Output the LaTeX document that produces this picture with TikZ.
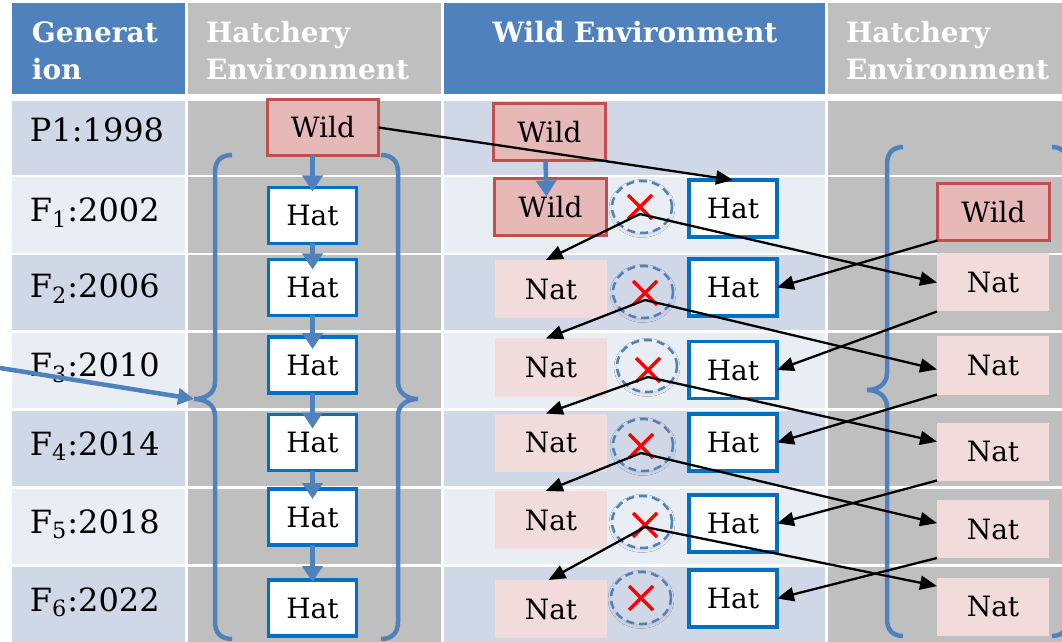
\documentclass[tikz,border=0pt]{standalone}
\usepackage{fontspec}
\setmainfont{DejaVu Serif}
\usetikzlibrary{arrows.meta, shapes.geometric, shapes.misc, shadows.blur}

\definecolor{headblue}{HTML}{4F81BD}
\definecolor{cellgray}{HTML}{BFBFBF}
\definecolor{rowdark}{HTML}{D0D8E8}
\definecolor{rowlight}{HTML}{E9EDF4}
\definecolor{wildfill}{HTML}{E6B9B8}
\definecolor{wildline}{HTML}{C0504D}
\definecolor{natfill}{HTML}{F2DCDB}
\definecolor{hatline}{HTML}{0070C0}

\newcommand{\boxfont}{\fontsize{14}{16}\selectfont}

\begin{document}
\begin{tikzpicture}[x=0.5pt, y=-0.5pt,
    every node/.style={inner sep=0pt, outer sep=0pt},
    headtext/.style={font=\fontsize{14}{18.5}\selectfont\bfseries, text=white, align=left, anchor=north west},
    genlabel/.style={font=\fontsize{16}{19}\selectfont, anchor=base west},
    hatbox/.style={draw=hatline, line width=1.75pt, fill=white, minimum width=44pt, minimum height=28pt, font=\boxfont},
    wildbox/.style={draw=wildline, line width=1.5pt, fill=wildfill, minimum width=56pt, minimum height=28.5pt, font=\boxfont},
    natbox/.style={fill=natfill, minimum width=56pt, minimum height=29pt, font=\boxfont},
    ringmark/.style={ellipse, draw=headblue, line width=1.25pt, dash pattern=on 4pt off 2.5pt, minimum width=30pt, minimum height=26pt,
        blur shadow={shadow xshift=0pt, shadow yshift=-0.75pt, shadow blur radius=1.5pt, shadow opacity=15}},
    nogo/.style={cross out, draw=red, line width=1.75pt, minimum size=12pt},
    flow/.style={draw=headblue, line width=2.25pt, -{Triangle[length=8pt, width=10pt]}},
    link/.style={draw=black, line width=1.15pt, -{Triangle[length=8.5pt, width=7pt]}},
    bracestroke/.style={draw=headblue, line width=2.25pt}]

    \clip (0,0) rectangle (1062,642);
    \fill[white] (0,0) rectangle (1062,642);

    % header cells
    \fill[headblue] (12,3) rectangle (185,94);
    \fill[cellgray] (188,3) rectangle (441,94);
    \fill[headblue] (444,3) rectangle (825,94);
    \fill[cellgray] (828,3) rectangle (1062,94);

    % body rows, hatchery columns on top
    \fill[rowdark]  (12,101)   rectangle (1062,176);
    \fill[rowlight] (12,176)   rectangle (1062,254);
    \fill[rowdark]  (12,254)   rectangle (1062,331.5);
    \fill[rowlight] (12,331.5) rectangle (1062,409.5);
    \fill[rowdark]  (12,409.5) rectangle (1062,487.5);
    \fill[rowlight] (12,487.5) rectangle (1062,565.5);
    \fill[rowdark]  (12,565.5) rectangle (1062,642);
    \fill[cellgray] (188,101) rectangle (441,642);
    \fill[cellgray] (828,101) rectangle (1062,642);

    % white grid lines
    \draw[white, line width=1.5pt] (186.5,101) -- (186.5,642) (442.5,101) -- (442.5,642) (826.5,101) -- (826.5,642);
    \draw[white, line width=1.25pt] (12,176) -- (1062,176) (12,254) -- (1062,254) (12,331.5) -- (1062,331.5)
        (12,409.5) -- (1062,409.5) (12,487.5) -- (1062,487.5) (12,565.5) -- (1062,565.5);

    % headings
    \node[headtext] (hdGen) at (32,22) {Generat\\ion};
    \node[headtext] (hdHatL) at (206,21) {Hatchery\\Environment};
    \node[headtext, anchor=north] (hdWild) at (635,21) {Wild Environment};
    \node[headtext] (hdHatR) at (846,21) {Hatchery\\Environment};

    % generations
    \node[genlabel] (g0) at (30,142) {P1:1998};
    \node[genlabel] (g1) at (30,222) {F\textsubscript{1}:2002};
    \node[genlabel] (g2) at (30,298) {F\textsubscript{2}:2006};
    \node[genlabel] (g3) at (30,377) {F\textsubscript{3}:2010};
    \node[genlabel] (g4) at (30,455) {F\textsubscript{4}:2014};
    \node[genlabel] (g5) at (30,533) {F\textsubscript{5}:2018};
    \node[genlabel] (g6) at (30,611) {F\textsubscript{6}:2022};

    % hatchery line
    \node[wildbox, minimum width=55.5pt, minimum height=28pt] (hw) at (323,127.5) {Wild};
    \node[hatbox] (h1) at (312.5,215.5) {Hat};
    \node[hatbox] (h2) at (312.5,287.5) {Hat};
    \node[hatbox] (h3) at (312.5,365) {Hat};
    \node[hatbox] (h4) at (312.5,442.5) {Hat};
    \node[hatbox] (h5) at (312.5,517) {Hat};
    \node[hatbox] (h6) at (312.5,608) {Hat};

    % wild environment
    \node[wildbox] (ww0) at (549.5,132) {Wild};
    \node[wildbox] (ww1) at (550.5,207) {Wild};
    \node[natbox] (wn2) at (551,289) {Nat};
    \node[natbox] (wn3) at (551,367.5) {Nat};
    \node[natbox] (wn4) at (551,442.5) {Nat};
    \node[natbox] (wn5) at (551,520) {Nat};
    \node[natbox] (wn6) at (551,609) {Nat};

    \node[hatbox, minimum height=28.5pt] (wh1) at (733,208.5) {Hat};
    \node[hatbox, minimum height=28.5pt] (wh2) at (733,287.5) {Hat};
    \node[hatbox, minimum height=28.5pt] (wh3) at (733,370) {Hat};
    \node[hatbox, minimum height=28.5pt] (wh4) at (733,442.5) {Hat};
    \node[hatbox, minimum height=28.5pt] (wh5) at (733,523.5) {Hat};
    \node[hatbox, minimum height=28.5pt] (wh6) at (733,598.5) {Hat};

    \node[ringmark, fill=rowlight] (ring1) at (642,207) {};
    \node[ringmark, fill=rowdark]  (ring2) at (643,292) {};
    \node[ringmark, fill=rowlight] (ring3) at (647,366) {};
    \node[ringmark, fill=rowdark]  (ring4) at (643,445) {};
    \node[ringmark, fill=rowlight] (ring5) at (642,522) {};
    \node[ringmark, fill=rowdark]  (ring6) at (641,598) {};
    \node[nogo] (no1) at (640,207) {};
    \node[nogo] (no2) at (645,293) {};
    \node[nogo] (no3) at (648,370) {};
    \node[nogo] (no4) at (641,446) {};
    \node[nogo] (no5) at (645,525) {};
    \node[nogo] (no6) at (641,598) {};

    % hatchery, second round
    \node[wildbox] (rw1) at (993.5,212) {Wild};
    \node[natbox] (rn2) at (993,282.5) {Nat};
    \node[natbox] (rn3) at (993,365.5) {Nat};
    \node[natbox] (rn4) at (993,451.5) {Nat};
    \node[natbox] (rn5) at (993,529) {Nat};
    \node[natbox] (rn6) at (993,606.5) {Nat};

    % braces
    \draw[bracestroke] (232,155) .. controls (221,155) and (215,161) .. (215,172) -- (215,382)
        .. controls (215,393) and (206,399) .. (194,399) .. controls (206,399) and (215,405) .. (215,416)
        -- (215,622) .. controls (215,633) and (221,639) .. (232,639);
    \draw[bracestroke] (381,155) .. controls (392,155) and (398,161) .. (398,172) -- (398,382)
        .. controls (398,393) and (407,399) .. (418,399) .. controls (407,399) and (398,405) .. (398,416)
        -- (398,622) .. controls (398,633) and (392,639) .. (381,639);
    \draw[bracestroke] (903,147) .. controls (893,147) and (887,153) .. (887,164) -- (887,373)
        .. controls (887,384) and (878,390) .. (867,390) .. controls (878,390) and (887,396) .. (887,407)
        -- (887,619) .. controls (887,630) and (893,636) .. (903,636);
    \draw[bracestroke] (1052,147) .. controls (1062,147) and (1068,153) .. (1068,164) -- (1068,373)
        .. controls (1068,384) and (1077,390) .. (1088,390) .. controls (1077,390) and (1068,396) .. (1068,407)
        -- (1068,619) .. controls (1068,630) and (1062,636) .. (1052,636);

    \coordinate (feed) at (0,368);
    \coordinate (braceTip) at (194,399);
    \draw[flow, -{Triangle[length=8pt, width=8pt]}] (feed) -- (braceTip);

    % blue descent arrows
    \draw[flow] (hw.south -| h1.north) -- ([yshift=-2pt]h1.north);
    \draw[flow] (h1.south) -- ([yshift=-5pt]h2.north);
    \draw[flow] (h2.south) -- ([yshift=-6pt]h3.north);
    \draw[flow] (h3.south) -- ([yshift=-7pt]h4.north);
    \draw[flow] (h4.south) -- ([yshift=-5pt]h5.north);
    \draw[flow] (h5.south) -- ([yshift=-1pt]h6.north);
    \draw[flow] ([xshift=-2pt]ww0.south) -- ([xshift=-2pt, yshift=-9pt]ww1.north);

    % black links
    \draw[link] (hw.east) -- (wh1.north);
    \draw[link] ([yshift=-3.5pt]no1.center) -- (wn2.100);
    \draw[link] ([yshift=-3.5pt]no2.center) -- (wn3.100);
    \draw[link] ([yshift=-3.5pt]no3.center) -- (wn4.100);
    \draw[link] ([yshift=-3.5pt]no4.center) -- (wn5.100);
    \draw[link] ([yshift=-1pt]no5.center) -- (wn6.95);
    \draw[link] ([yshift=-3.5pt]no1.center) -- (rn2.west);
    \draw[link] ([yshift=-3.5pt]no2.center) -- (rn3.184);
    \draw[link] ([yshift=-3.5pt]no3.center) -- (rn4.170);
    \draw[link] ([yshift=-3.5pt]no4.center) -- (rn5.174);
    \draw[link] ([yshift=-1pt]no5.center) -- (rn6.160);
    \draw[link] (rw1.south west) -- (wh2.east);
    \draw[link] (rn2.south west) -- (wh3.east);
    \draw[link] (rn3.south west) -- (wh4.east);
    \draw[link] (rn4.south west) -- (wh5.east);
    \draw[link] (rn5.south west) -- (wh6.east);
\end{tikzpicture}
\end{document}
